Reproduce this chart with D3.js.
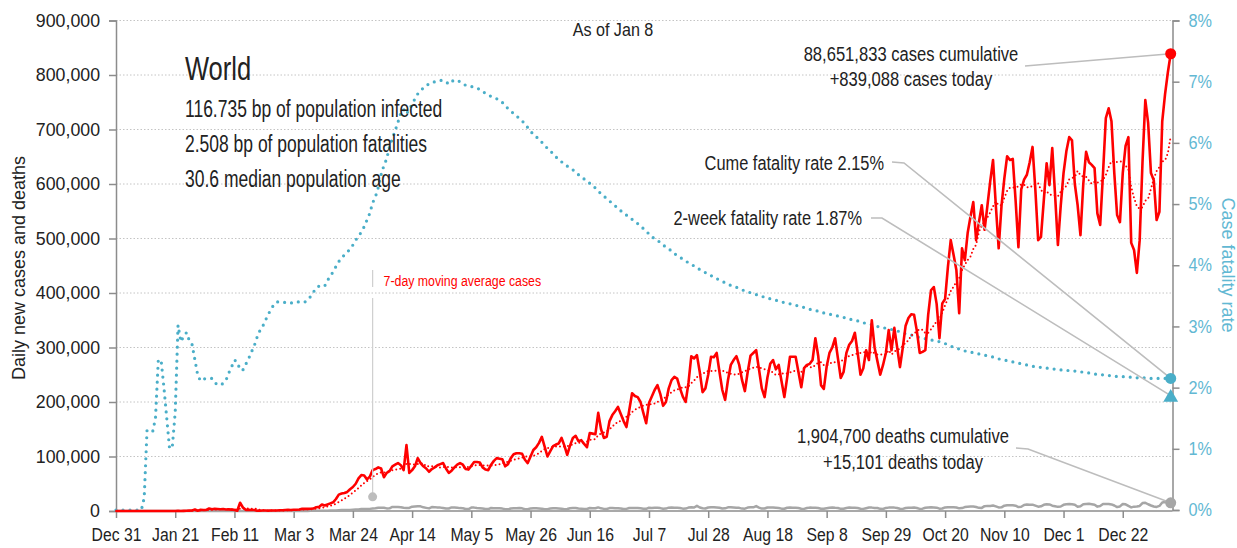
<!DOCTYPE html>
<html><head><meta charset="utf-8">
<script src="https://cdn.jsdelivr.net/npm/d3@7"></script>
<style>
html,body{margin:0;padding:0;background:#fff;}
svg text{font-family:"Liberation Sans",Arial,sans-serif;fill:#222;}
</style></head><body>
<svg id="chart" width="1237" height="548"></svg>
<script>
// ---------------- DATA ----------------
const startDate = "2019-12-31"; // first day of series, one value per day
// daily new cases (thousands)
const dailyCasesK = [
0,0,0,0,0,0,0,
0,0,0,0,0,0,0,
0,0,0,0,0,0,0.1,
0.1,0.5,0.1,0.3,0.5,0.7,0.8,
2.6,0.6,2.1,1.7,2.1,4.7,3.1,
4.0,3.7,3.2,3.6,2.7,3.0,2.6,
2.0,0.4,15.1,6.5,2.1,2.1,1.9,
1.8,0.4,0.6,1.0,1.0,0.6,0.8,
1.0,1.0,1.3,1.5,1.9,2.0,1.9,
2.4,2.2,2.8,3.9,4.0,3.9,4.0,
4.5,7.0,7.5,12,10,12,14,
16,22,30,32,33,35,40,
44,50,60,66,65,58,63,
75,77,80,78,62,70,73,
82,85,88,84,75,121,70,
75,82,97,88,82,78,72,
77,80,84,86,88,78,70,
74,80,85,88,85,77,76,
83,90,90,89,80,76,75,
85,92,97,96,95,82,86,
97,104,106,106,105,94,88,
100,112,117,125,136,118,100,
110,119,122,124,134,120,103,
120,134,138,128,130,123,117,
143,142,141,180,150,134,136,
165,176,183,191,178,165,154,
185,216,211,209,200,180,161,
198,210,222,231,215,193,200,
225,240,246,243,225,210,200,
235,284,280,286,255,218,225,
250,283,282,290,255,222,204,
240,268,277,284,268,240,220,
255,285,290,295,260,225,209,
245,270,277,260,268,238,209,
245,283,283,283,255,227,262,
268,270,277,317,285,231,224,
265,290,300,317,280,244,255,
290,305,312,327,290,250,262,
295,277,350,300,275,250,268,
290,332,295,336,300,264,300,
340,354,361,360,330,290,292,
295,360,405,411,380,317,381,
389,448,497,470,442,363,482,
460,510,540,567,497,530,561,
516,560,605,644,560,482,560,
610,651,644,646,570,484,590,
608,617,640,668,590,497,503,
570,638,598,666,580,488,560,
620,660,686,680,600,561,506,
600,659,640,635,629,546,525,
620,721,739,715,620,543,530,
620,670,686,492,479,437,497,
640,754,712,620,607,534,549,
715,765,805,839];
// daily new deaths (thousands)
const dailyDeathsK = [
0,0,0,0,0,0,0,
0,0,0,0,0.001,0,0,
0,0,0.001,0.001,0,0,0.001,
0.001,0.01,0.008,0.016,0.014,0.026,0.026,
0.049,0.002,0.038,0.042,0.046,0.103,0.064,
0.066,0.073,0.073,0.086,0.089,0.097,0.108,
0.097,0.254,0.121,0.143,0.142,0.106,0.098,
0.139,0.115,0.125,0.005,0.15,0.099,0.079,
0.071,0.058,0.046,0.06,0.087,0.075,0.068,
0.084,0.082,0.099,0.11,0.105,0.213,0.237,
0.326,0.35,0.46,0.428,0.37,0.58,0.81,
0.98,1.1,1.35,1.63,1.77,1.88,1.88,
2.4,2.8,2.8,3.6,3.6,3.5,3.9,
4.7,5.1,6.0,6.1,5.8,4.8,5.0,
7.5,7.3,7.3,7.0,6.0,5.3,5.6,
7.9,8.2,8.6,8.5,6.7,5.7,4.8,
7.3,7.1,6.5,6.2,5.4,4.4,4.6,
6.6,6.5,6.1,5.3,5.0,3.8,3.6,
6.2,6.2,5.5,5.2,4.6,3.6,3.5,
5.5,5.2,5.2,4.9,4.4,3.3,3.0,
4.7,5.0,5.2,5.6,4.9,3.2,3.1,
4.8,5.0,5.1,4.8,4.3,3.3,3.4,
4.6,5.2,5.0,4.6,4.3,3.3,3.6,
5.1,5.3,5.4,4.5,4.2,3.5,3.7,
5.4,5.2,5.0,6.6,4.9,3.9,3.6,
5.4,5.6,5.1,5.2,4.6,3.6,3.8,
5.6,5.6,5.5,5.4,5.0,4.1,4.0,
5.9,5.6,5.9,5.8,5.3,4.1,4.4,
6.1,6.5,6.0,6.1,5.6,4.3,4.4,
6.3,6.7,6.5,9.5,6.4,5.0,4.6,
6.4,6.9,6.9,6.5,5.9,4.5,4.9,
6.7,6.8,6.4,6.0,5.8,4.4,4.3,
6.3,6.7,6.7,9.0,6.3,4.4,4.5,
6.4,6.6,6.3,5.9,5.6,4.3,4.1,
6.0,6.2,6.0,5.8,5.5,4.1,3.9,
5.5,6.2,5.8,5.9,5.5,4.2,4.0,
5.1,6.0,6.2,5.8,5.6,4.0,4.1,
5.6,6.3,6.0,5.8,5.5,4.1,3.9,
5.2,6.3,6.2,5.6,5.6,4.0,3.7,
5.7,6.2,6.2,6.2,5.5,4.0,3.8,
5.4,6.0,5.9,6.3,5.5,3.9,4.3,
6.0,6.5,6.7,6.4,6.1,4.3,4.6,
6.6,7.1,7.0,6.8,6.5,4.9,5.3,
7.2,8.0,8.1,8.2,7.2,5.8,5.7,
8.9,9.4,9.3,10.0,8.5,6.5,6.8,
9.8,10.7,10.5,10.4,9.7,7.3,7.9,
11.1,11.9,11.4,11.6,9.8,7.9,8.6,
11.3,12.5,12.0,9.8,8.7,7.6,8.3,
11.3,12.5,12.7,12.4,11.6,7.9,8.6,
12.3,12.7,13.2,12.3,11.4,8.0,9.3,
12.9,12.8,13.0,12.1,10.1,7.2,8.4,
12.9,12.3,9.3,6.6,8.0,8.2,9.2,
14.5,15.1,12.4,10.1,8.3,7.5,9.3,
15.6,16.5,14.9,15.101];
// cumulative case fatality rate (%)
const fatalityRatePct = [
0,0,0,0,0,0,0,
0,0,0,0.2,1.3,1.3,1.28,
1.5,2.45,2.45,2.0,1.5,1.0,1.05,
1.6,3.02,2.75,2.84,2.9,2.77,2.7,
2.45,2.2,2.11,2.14,2.15,2.15,2.15,
2.08,2.05,2.04,2.07,2.12,2.24,2.34,
2.45,2.42,2.29,2.29,2.38,2.47,2.58,
2.68,2.82,2.93,3.0,3.1,3.2,3.28,
3.36,3.4,3.4,3.4,3.39,3.38,3.38,
3.4,3.4,3.4,3.39,3.4,3.43,3.49,
3.56,3.63,3.66,3.67,3.66,3.75,3.83,
3.89,3.98,4.06,4.12,4.17,4.21,4.27,
4.33,4.41,4.48,4.54,4.63,4.74,4.85,
5.02,5.12,5.27,5.48,5.63,5.74,5.94,
6.07,6.2,6.34,6.49,6.55,6.47,6.55,
6.63,6.72,6.8,6.85,6.9,6.94,6.96,
6.97,7.0,7.01,7.02,7.02,7.0,6.96,
7.0,7.03,7.02,7.0,6.97,6.94,6.93,
6.92,6.91,6.9,6.87,6.84,6.81,6.78,
6.76,6.74,6.72,6.7,6.66,6.61,6.56,
6.52,6.48,6.44,6.4,6.36,6.31,6.25,
6.19,6.14,6.1,6.06,6.01,5.96,5.91,
5.87,5.82,5.77,5.73,5.69,5.66,5.62,
5.59,5.56,5.52,5.48,5.45,5.41,5.37,
5.34,5.31,5.26,5.21,5.17,5.13,5.09,
5.05,5.01,4.97,4.93,4.89,4.85,4.82,
4.78,4.75,4.71,4.68,4.64,4.6,4.56,
4.51,4.47,4.43,4.41,4.37,4.33,4.3,
4.27,4.23,4.19,4.16,4.13,4.1,4.07,
4.04,4.01,3.99,3.96,3.93,3.9,3.88,
3.85,3.83,3.81,3.78,3.76,3.74,3.71,
3.69,3.67,3.65,3.64,3.62,3.6,3.58,
3.57,3.55,3.54,3.52,3.51,3.49,3.48,
3.47,3.45,3.44,3.43,3.41,3.4,3.39,
3.38,3.37,3.36,3.35,3.33,3.32,3.31,
3.3,3.28,3.27,3.26,3.25,3.24,3.22,
3.21,3.2,3.19,3.18,3.17,3.16,3.15,
3.13,3.12,3.11,3.1,3.09,3.07,3.06,
3.05,3.04,3.03,3.01,3.0,2.99,2.98,
2.97,2.96,2.95,2.94,2.93,2.91,2.9,
2.88,2.87,2.86,2.84,2.83,2.82,2.81,
2.8,2.79,2.78,2.77,2.76,2.75,2.73,
2.72,2.7,2.68,2.66,2.65,2.63,2.62,
2.6,2.59,2.58,2.57,2.56,2.55,2.54,
2.53,2.52,2.51,2.5,2.48,2.47,2.46,
2.45,2.44,2.43,2.42,2.41,2.4,2.39,
2.38,2.37,2.36,2.35,2.34,2.34,2.33,
2.32,2.32,2.31,2.31,2.3,2.3,2.29,
2.29,2.28,2.28,2.27,2.27,2.26,2.26,
2.25,2.24,2.24,2.23,2.22,2.22,2.21,
2.21,2.2,2.2,2.19,2.19,2.18,2.18,
2.18,2.17,2.17,2.17,2.17,2.16,2.16,
2.16,2.16,2.16,2.15,2.15,2.15,2.15,
2.15,2.15,2.15,2.15];
const twoWeekFatalityPct = 1.87;

const yTickValues = [0,100000,200000,300000,400000,500000,600000,700000,800000,900000];
const yTickLabels = ["0","100,000","200,000","300,000","400,000","500,000","600,000","700,000","800,000","900,000"];
const rightTickValues = [0,1,2,3,4,5,6,7,8];
const rightTickLabels = ["0%","1%","2%","3%","4%","5%","6%","7%","8%"];
const xTickDates = ["2019-12-31","2020-01-21","2020-02-11","2020-03-03","2020-03-24","2020-04-14","2020-05-05","2020-05-26","2020-06-16","2020-07-07","2020-07-28","2020-08-18","2020-09-08","2020-09-29","2020-10-20","2020-11-10","2020-12-01","2020-12-22"];
const xTickLabels = ["Dec 31","Jan 21","Feb 11","Mar 3","Mar 24","Apr 14","May 5","May 26","Jun 16","Jul 7","Jul 28","Aug 18","Sep 8","Sep 29","Oct 20","Nov 10","Dec 1","Dec 22"];

const titleText = "World";
const statLines = ["116.735 bp of population infected","2.508 bp of population fatalities","30.6 median population age"];
const asOfText = "As of Jan 8";
const casesNote = ["88,651,833 cases cumulative","+839,088 cases today"];
const deathsNote = ["1,904,700 deaths cumulative","+15,101 deaths today"];
const cumeRateNote = "Cume fatality rate 2.15%";
const twoWeekNote = "2-week fatality rate 1.87%";
const maLabel = "7-day moving average cases";
const maNoteDate = "2020-03-31", maNoteValue = 26000;

// ---------------- CHART ----------------
const svg = d3.select("#chart");
const parse = d3.utcParse("%Y-%m-%d");
const t0 = parse(startDate);
const dates = dailyCasesK.map((_, i) => d3.utcDay.offset(t0, i));
const cases = dailyCasesK.map(v => v * 1000);
const deaths = dailyDeathsK.map(v => v * 1000);
const ma7 = cases.map((_, i) => d3.mean(cases.slice(Math.max(0, i - 6), i + 1)));
const last = cases.length - 1;

const L = 116, R = 1172.5, T = 20.5, B = 511;
const x = d3.scaleUtc().domain([t0, dates[last]]).range([L, 1170.7]);
const y = d3.scaleLinear().domain([0, 900000]).range([B, T]);
const y2 = d3.scaleLinear().domain([0, 8]).range([B - 1, T]);

const BLUE = "#4aaec8", BLUE_T = "#62b8d3", RED = "#ff0000", GRAY = "#a6a6a6";

// gridlines
svg.append("g").selectAll("line").data(yTickValues.slice(1)).join("line")
  .attr("x1", L).attr("x2", R).attr("y1", d => y(d)).attr("y2", d => y(d))
  .attr("stroke", "#c4c4c4").attr("stroke-width", 1).attr("stroke-dasharray", "1.5,2");

// left axis
const gL = svg.append("g").attr("transform", `translate(${L},0)`)
  .call(d3.axisLeft(y).tickValues(yTickValues).tickFormat((d, i) => yTickLabels[i]).tickSize(7).tickPadding(9));
gL.select(".domain").attr("stroke", "#8c8c8c").attr("stroke-width", 1.5);
gL.selectAll(".tick line").attr("stroke", "#8c8c8c").attr("stroke-width", 1.5);
gL.selectAll(".tick text").attr("font-size", 18.5).attr("fill", "#222").attr("font-family", null).attr("data-k", 0.96);

// right axis
const gR = svg.append("g").attr("transform", `translate(${R},0)`)
  .call(d3.axisRight(y2).tickValues(rightTickValues).tickFormat((d, i) => rightTickLabels[i]).tickSize(7).tickPadding(9));
gR.select(".domain").attr("stroke", "#8c8c8c").attr("stroke-width", 1.5);
gR.selectAll(".tick line").attr("stroke", "#8c8c8c").attr("stroke-width", 1.5);
gR.selectAll(".tick text").attr("font-size", 17.5).attr("font-family", null).style("fill", BLUE_T).attr("data-k", 0.93);

// bottom axis
const gB = svg.append("g").attr("transform", `translate(0,${B})`)
  .call(d3.axisBottom(x).tickValues(xTickDates.map(parse)).tickFormat((d, i) => xTickLabels[i]).tickSize(7).tickPadding(11));
gB.select(".domain").attr("stroke", "#8c8c8c").attr("stroke-width", 1.5).attr("d", `M${L},0H${R}`);
gB.selectAll(".tick line").attr("stroke", "#8c8c8c").attr("stroke-width", 1.5);
gB.selectAll(".tick text").attr("font-size", 17.5).attr("fill", "#222").attr("font-family", null).attr("data-k", 0.9);

// axis titles
svg.append("text").attr("transform", "translate(25,268) rotate(-90)").attr("text-anchor", "middle")
  .attr("font-size", 18).text("Daily new cases and deaths");
svg.append("text").attr("transform", "translate(1222,265) rotate(90)").attr("text-anchor", "middle")
  .attr("font-size", 18).style("fill", BLUE_T).text("Case fatality rate");

// fatality rate (dotted blue)
svg.append("path").datum(fatalityRatePct)
  .attr("d", d3.line().x((d, i) => x(dates[i])).y(d => y2(d)))
  .attr("fill", "none").attr("stroke", BLUE).attr("stroke-width", 3.2)
  .attr("stroke-linecap", "round").attr("stroke-dasharray", "0,7");

// deaths (gray)
svg.append("path").datum(deaths)
  .attr("d", d3.line().x((d, i) => x(dates[i])).y(d => y(d)))
  .attr("fill", "none").attr("stroke", GRAY).attr("stroke-width", 2.5).attr("stroke-linejoin", "round");

// 7-day MA (dotted red)
svg.append("path").datum(ma7)
  .attr("d", d3.line().x((d, i) => x(dates[i])).y(d => y(d)))
  .attr("fill", "none").attr("stroke", RED).attr("stroke-width", 2)
  .attr("stroke-linecap", "round").attr("stroke-dasharray", "0,4");

// daily cases (red)
svg.append("path").datum(cases)
  .attr("d", d3.line().x((d, i) => x(dates[i])).y(d => y(d)))
  .attr("fill", "none").attr("stroke", RED).attr("stroke-width", 2.6).attr("stroke-linejoin", "round");

// MA label leader
const mx = x(parse(maNoteDate));
svg.append("line").attr("x1", mx).attr("x2", mx).attr("y1", 270).attr("y2", 287).attr("stroke", "#cfcfcf").attr("stroke-width", 1.2);
svg.append("line").attr("x1", mx).attr("x2", mx).attr("y1", 298).attr("y2", y(maNoteValue)).attr("stroke", "#cfcfcf").attr("stroke-width", 1.2);
svg.append("circle").attr("cx", mx).attr("cy", y(maNoteValue)).attr("r", 4.5).attr("fill", "#bdbdbd");
svg.append("text").attr("x", mx + 11).attr("y", 286).attr("font-size", 14).attr("data-k", 0.88).style("fill", RED).text(maLabel);

// annotations
const lx = x(dates[last]);
const leader = (pts) => svg.append("path").attr("d", d3.line()(pts)).attr("fill", "none").attr("stroke", "#bdbdbd").attr("stroke-width", 1.6);
leader([[1025, 66], [lx, y(cases[last])]]);
leader([[892, 162], [904, 163], [lx, y2(fatalityRatePct[last])]]);
leader([[871, 218], [882, 218], [lx, y2(twoWeekFatalityPct)]]);
leader([[1016, 448], [1028, 449], [lx, y(deaths[last])]]);

svg.append("circle").attr("cx", lx).attr("cy", y(cases[last])).attr("r", 5.5).attr("fill", RED);
svg.append("circle").attr("cx", lx).attr("cy", y2(fatalityRatePct[last])).attr("r", 5.5).attr("fill", BLUE);
svg.append("path").attr("d", d3.symbol(d3.symbolTriangle, 95)()).attr("transform", `translate(${lx},${y2(twoWeekFatalityPct) + 2})`).attr("fill", BLUE);
svg.append("circle").attr("cx", lx).attr("cy", y(deaths[last])).attr("r", 5.5).attr("fill", GRAY);

svg.append("text").attr("x", 185).attr("y", 80).attr("font-size", 34).attr("data-k", 0.75).text(titleText);
svg.selectAll(".stat").data(statLines).join("text").attr("class", "stat")
  .attr("x", 185).attr("y", (d, i) => 117 + i * 35).attr("font-size", 23).attr("data-k", 0.76).text(d => d);
svg.append("text").attr("x", 613).attr("y", 36).attr("text-anchor", "middle").attr("font-size", 17.5).attr("data-k", 0.92).text(asOfText);
svg.selectAll(".cn").data(casesNote).join("text").attr("class", "cn")
  .attr("x", 911).attr("y", (d, i) => 61 + i * 25).attr("text-anchor", "middle").attr("font-size", 19.5).attr("data-k", 0.85).text(d => d);
svg.selectAll(".dn").data(deathsNote).join("text").attr("class", "dn")
  .attr("x", 903).attr("y", (d, i) => 443 + i * 26).attr("text-anchor", "middle").attr("font-size", 19.5).attr("data-k", 0.85).text(d => d);
svg.append("text").attr("x", 884).attr("y", 170).attr("text-anchor", "end").attr("font-size", 19.5).attr("data-k", 0.84).text(cumeRateNote);
svg.append("text").attr("x", 862).attr("y", 225).attr("text-anchor", "end").attr("font-size", 19.5).attr("data-k", 0.84).text(twoWeekNote);

// condense text horizontally to match the narrow face of the original
svg.selectAll("text").each(function () {
  const k = +this.getAttribute("data-k");
  if (k && k !== 1) {
    const len = this.getComputedTextLength();
    this.setAttribute("textLength", (len * k).toFixed(1));
    this.setAttribute("lengthAdjust", "spacingAndGlyphs");
  }
});
</script>
</body></html>
